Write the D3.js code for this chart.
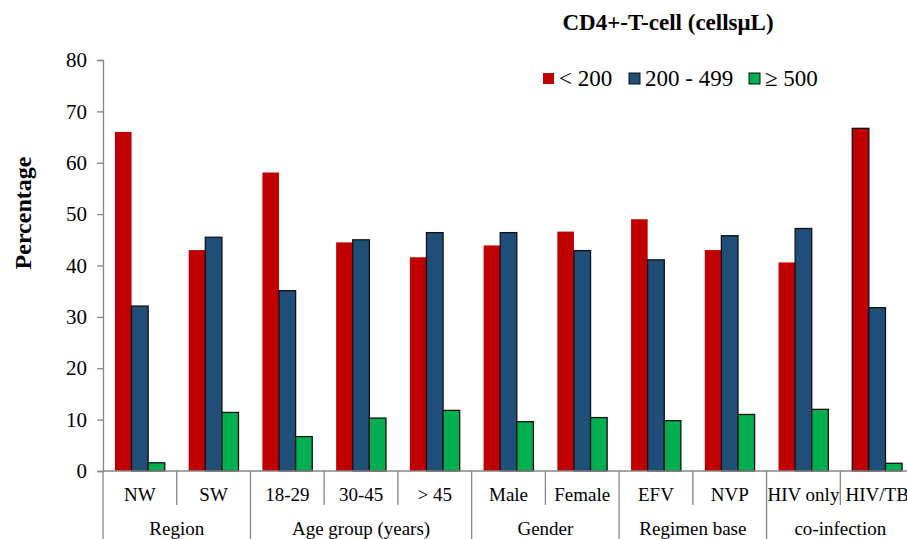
<!DOCTYPE html>
<html>
<head>
<meta charset="utf-8">
<script src="https://cdn.jsdelivr.net/npm/d3@7"></script>
<style>
  html, body { margin: 0; padding: 0; background: #fff; }
  svg { display: block; }
  svg text { font-family: "Liberation Serif", "Times New Roman", "DejaVu Serif", serif; }
</style>
</head>
<body>
<svg id="chart" width="907" height="539"></svg>
<script>
// ---- data ----
const categories = ["NW", "SW", "18-29", "30-45", "> 45", "Male", "Female", "EFV", "NVP", "HIV only", "HIV/TB"];
const groups = [
  { name: "Region", members: ["NW", "SW"] },
  { name: "Age group (years)", members: ["18-29", "30-45", "> 45"] },
  { name: "Gender", members: ["Male", "Female"] },
  { name: "Regimen base", members: ["EFV", "NVP"] },
  { name: "co-infection", members: ["HIV only", "HIV/TB"] }
];
const seriesNames = ["< 200", "200 - 499", "≥ 500"];
const below200 = [66.0, 43.0, 58.1, 44.5, 41.6, 43.9, 46.6, 49.0, 43.0, 40.6, 66.7];
const mid200to499 = [32.1, 45.5, 35.1, 45.0, 46.4, 46.4, 42.9, 41.1, 45.8, 47.2, 31.8];
const above500 = [1.6, 11.4, 6.7, 10.3, 11.8, 9.6, 10.4, 9.8, 11.0, 12.0, 1.5];
const yTicks = [0, 10, 20, 30, 40, 50, 60, 70, 80];
const chartTitle = "CD4+-T-cell (cellsμL)";
const yTitle = "Percentage";

const seriesValues = [below200, mid200to499, above500];
const colors = ["#C00000", "#1F4E79", "#00B050"];

// ---- layout ----
const FONT = "'Liberation Serif', 'Times New Roman', serif";
const svg = d3.select("#chart");
const mLeft = 103, mTop = 60, mBottom = 471;
const step = 73.73;
const mRight = mLeft + step * categories.length;

const x = d3.scaleBand().domain(categories).range([mLeft, mRight]).padding(0);
const xs = d3.scaleBand().domain(d3.range(3)).range([0, x.bandwidth()]).paddingInner(0).paddingOuter(0.72);
const y = d3.scaleLinear().domain([0, 80]).range([mBottom, mTop]);

const axisColor = "#868686";

// y axis
const yAxis = d3.axisLeft(y).tickValues(yTicks).tickSize(6).tickPadding(10).tickFormat(d3.format("d"));
const ya = svg.append("g").attr("transform", `translate(${mLeft},0)`).call(yAxis);
ya.attr("font-family", FONT);
ya.select(".domain").attr("stroke", axisColor).attr("stroke-width", 1.3);
ya.selectAll(".tick line").attr("stroke", axisColor).attr("stroke-width", 1.3);
ya.selectAll(".tick text").attr("font-family", FONT).attr("font-size", 21).attr("fill", "#000");

// bars
const barData = [];
categories.forEach((c, i) => {
  seriesValues.forEach((vals, s) => barData.push({ cat: c, s, v: vals[i], i }));
});
svg.append("g").selectAll("rect").data(barData).join("rect")
  .attr("x", d => x(d.cat) + xs(d.s))
  .attr("y", d => y(d.v))
  .attr("width", xs.bandwidth())
  .attr("height", d => y(0) - y(d.v))
  .attr("fill", d => colors[d.s])
  .attr("stroke", d => (d.s === 0 && d.i !== categories.length - 1) ? "none" : "#111")
  .attr("stroke-width", 1.3);

// x axis baseline
svg.append("line").attr("x1", mLeft).attr("x2", 907).attr("y1", mBottom).attr("y2", mBottom)
  .attr("stroke", axisColor).attr("stroke-width", 1.3);

// separators
const groupBounds = new Set();
groups.forEach(g => {
  groupBounds.add(x(g.members[0]));
  groupBounds.add(x(g.members[g.members.length - 1]) + x.bandwidth());
});
const sepG = svg.append("g");
categories.forEach(c => {
  const bx = x(c);
  sepG.append("line").attr("x1", bx).attr("x2", bx).attr("y1", mBottom)
    .attr("y2", groupBounds.has(bx) ? 539 : 505)
    .attr("stroke", axisColor).attr("stroke-width", 1.3);
});
sepG.append("line").attr("x1", mRight).attr("x2", mRight).attr("y1", mBottom).attr("y2", 539)
  .attr("stroke", axisColor).attr("stroke-width", 1.3);

// category labels
svg.append("g").selectAll("text").data(categories).join("text")
  .attr("x", d => x(d) + x.bandwidth() / 2)
  .attr("y", 501)
  .attr("text-anchor", "middle")
  .attr("font-family", FONT)
  .attr("font-size", 19)
  .attr("fill", "#000")
  .text(d => d);

// group labels
svg.append("g").selectAll("text").data(groups).join("text")
  .attr("x", g => (x(g.members[0]) + x(g.members[g.members.length - 1]) + x.bandwidth()) / 2)
  .attr("y", 535)
  .attr("text-anchor", "middle")
  .attr("font-family", FONT)
  .attr("font-size", 19)
  .attr("fill", "#000")
  .text(g => g.name);

// y title
svg.append("text")
  .attr("transform", "translate(31,213) rotate(-90)")
  .attr("text-anchor", "middle")
  .attr("font-family", FONT)
  .attr("font-size", 24)
  .attr("font-weight", "bold")
  .text(yTitle);

// chart title
svg.append("text")
  .attr("x", 668).attr("y", 30)
  .attr("text-anchor", "middle")
  .attr("font-family", FONT)
  .attr("font-size", 23)
  .attr("font-weight", "bold")
  .text(chartTitle);

// legend
const legendX = [543, 629, 749];
const lg = svg.append("g");
seriesNames.forEach((n, i) => {
  lg.append("rect").attr("x", legendX[i]).attr("y", 73).attr("width", 11).attr("height", 11)
    .attr("fill", colors[i]).attr("stroke", i === 0 ? "none" : "#111").attr("stroke-width", 1);
  lg.append("text").attr("x", legendX[i] + 16).attr("y", 86)
    .attr("font-family", FONT)
    .attr("font-size", 23).attr("fill", "#000").text(n);
});
</script>
</body>
</html>
